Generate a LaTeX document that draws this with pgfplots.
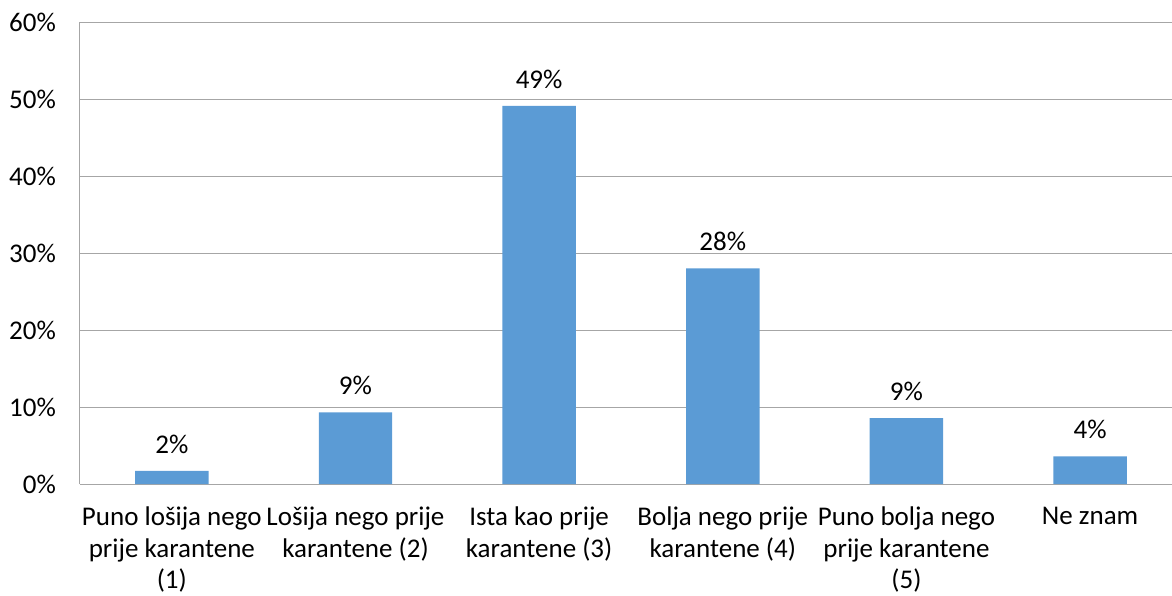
\documentclass[border=0pt]{standalone}
\usepackage{pgfplots}
\pgfplotsset{compat=1.18}
\usepackage{fontspec}
\setmainfont{Carlito}
\definecolor{barblue}{HTML}{5B9BD5}
\definecolor{gridgray}{HTML}{A6A6A6}
\begin{document}
\fontsize{27}{31.5}\selectfont
\begin{tikzpicture}
\path[use as bounding box] (-80pt,-111pt) rectangle (1092pt,484pt);
\begin{axis}[
  at={(0pt,0pt)}, anchor=south west,
  scale only axis,
  width=1102pt, height=462pt,
  xmin=-0.5, xmax=5.5,
  ymin=0, ymax=60,
  ytick={0,10,20,30,40,50,60},
  yticklabel={\pgfmathprintnumber{\tick}\%},
  /pgf/number format/assume math mode=true,
  xtick={0,1,2,3,4,5},
  xticklabels={{Puno lošija nego\\prije karantene\\(1)},{Lošija nego prije\\karantene (2)},{Ista kao prije\\karantene (3)},{Bolja nego prije\\karantene (4)},{Puno bolja nego\\prije karantene\\(5)},{Ne znam}},
  xticklabel style={align=center, anchor=north, inner sep=0pt, font=\fontsize{27}{31.5}\selectfont},
  yticklabel style={font=\fontsize{27}{31.5}\selectfont, anchor=east, inner sep=0pt},
  x tick label style={yshift=-23pt},
  y tick label style={xshift=-24pt},
  major tick length=0pt,
  axis x line*=bottom, axis y line*=left,
  axis line style={gridgray, line width=1pt},
  ymajorgrids, grid style={gridgray, line width=1pt},
  ybar, bar width=0.4,
  nodes near coords={\pgfmathprintnumber[fixed,precision=0]{\pgfplotspointmeta}\%},
  nodes near coords style={font=\fontsize{27}{31.5}\selectfont, anchor=south, inner sep=0pt, yshift=17pt},
]
\addplot[fill=barblue, draw=none] coordinates {(0,1.7) (1,9.3) (2,49.1) (3,28.0) (4,8.55) (5,3.6)};
\end{axis}
\end{tikzpicture}
\end{document}
